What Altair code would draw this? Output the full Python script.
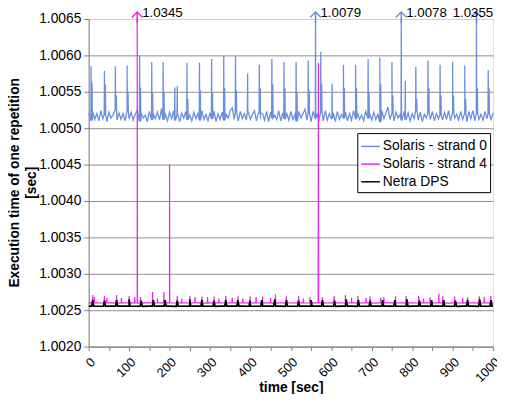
import altair as alt
import pandas as pd

series_names = ["Solaris - strand 0", "Solaris - strand 4", "Netra DPS"]
series_colors = ["#6a8fdc", "#ee22ee", "#000000"]

# Solaris - strand 0 : baseline samples (units of 1e-5 above 1.00500), evenly spread over 0..1000 s
blue_base = [
    21, 11, 23, 12, 20, 10, 24, 13, 19, 9, 22, 14, 18, 25, 11, 21, 12, 20, 10, 23,
    13, 22, 11, 19, 24, 10, 21, 14, 18, 9, 23, 12, 20, 13, 22, 11, 27, 12, 19, 10,
    22, 13, 24, 11, 20, 9, 21, 14, 23, 12, 18, 10, 22, 13, 20, 11, 24, 12, 19, 10,
    21, 13, 23, 9, 20, 12, 22, 11, 19, 14, 24, 28, 12, 21, 10, 23, 13, 20, 11, 22,
    12, 19, 24, 10, 21, 13, 20, 11, 23, 9, 22, 14, 18, 12, 24, 10, 21, 13, 20, 11,
    23, 12, 19, 10, 22, 14, 20, 26, 11, 21, 9, 23, 13, 19, 12, 22, 10, 24, 11, 20,
    13, 21, 9, 23, 12, 19, 14, 22, 10, 20, 11, 24, 13, 21, 12, 18, 10, 23, 14, 20,
    11, 22, 12, 19, 9, 24, 13, 21, 29, 12, 20, 10, 22, 14, 19, 11, 23, 12, 21, 10,
    20, 13, 24, 11, 22, 9, 19, 14, 21, 12, 23, 10, 20, 13, 18, 11, 22, 12, 24, 10,
    21, 14, 19, 11, 23, 12, 20, 9, 22, 13, 24, 10, 21, 12, 19, 11, 23, 13, 20, 12,
    21,
]
blue_spike_t = [6, 39, 66, 95, 126, 156, 184, 213, 219, 243,
                274, 304, 334, 363, 393, 422, 453, 483, 513, 543,
                561, 574, 602, 630, 660, 691, 720, 750, 773, 783,
                809, 839, 869, 900, 930, 959, 988]
blue_spike_v = [1.00585, 1.00579, 1.00585, 1.00586, 1.00600, 1.00591, 1.00591, 1.00556, 1.00558, 1.00590,
                1.00590, 1.00595, 1.00600, 1.00600, 1.00575, 1.00587, 1.00595, 1.00591, 1.00591, 1.00593,
                1.0079, 1.00605, 1.00561, 1.00587, 1.00587, 1.00595, 1.00597, 1.00591, 1.0078, 1.00565,
                1.00584, 1.00593, 1.00587, 1.00591, 1.00586, 1.0355, 1.00580]
blue_shoulder_v = [1.00563, 1.00560, 1.00545, 1.00550, 1.00556, 1.00548, 1.00550, None, None, 1.00540,
                   1.00552, 1.00548, 1.00555, 1.00552, None, 1.00555, 1.00560, 1.00555, 1.00550, 1.00552,
                   None, 1.00560, None, 1.00555, 1.00555, 1.00550, 1.00560, 1.00545, None, None,
                   1.00540, 1.00555, 1.00545, 1.00545, 1.00540, 1.00555, 1.00555]

# Solaris - strand 4 : baseline samples (units of 1e-6 above 1.00250)
mag_base = [
    101, 100, 102, 99, 100, 101, 100, 98, 101, 100, 102, 100, 99, 101, 100, 100, 102, 99, 101, 100,
    100, 99, 101, 102, 100, 99, 100, 101, 100, 98, 101, 100, 102, 100, 99, 101, 100, 101, 99, 100,
    102, 100, 99, 101, 100, 100, 98, 101, 100, 102, 99, 100, 101, 100, 99, 101, 100, 102, 100, 99,
    101, 100, 100, 99, 102, 100, 101, 99, 100, 101, 100, 98, 101, 100, 102, 100, 99, 101, 100, 101,
    100, 99, 102, 100, 101, 99, 100, 100, 101, 98, 100, 102, 99, 101, 100, 100, 101, 99, 102, 100,
    101,
]
mag_spike_t = [10, 14, 39, 45, 69, 81, 100, 114, 120, 128,
               158, 170, 186, 200, 219, 230, 250, 263, 280, 294,
               310, 322, 339, 355, 369, 381, 399, 414, 430, 450,
               462, 489, 519, 531, 547, 568, 578, 607, 635, 650,
               666, 686, 696, 722, 730, 759, 785, 816, 828, 844,
               866, 876, 905, 925, 937, 966, 978, 994]
mag_spike_v = [1.00271, 1.00268, 1.00270, 1.00267, 1.00271, 1.00267, 1.00270, 1.00268, 1.0345, 1.00268,
               1.00275, 1.00266, 1.00275, 1.0045, 1.00270, 1.00266, 1.00270, 1.00268, 1.00269, 1.00268,
               1.00269, 1.00266, 1.00270, 1.00267, 1.00269, 1.00266, 1.00269, 1.00268, 1.00269, 1.00267,
               1.00272, 1.00269, 1.00270, 1.00266, 1.00268, 1.0059, 1.00268, 1.00270, 1.00271, 1.00267,
               1.00270, 1.00267, 1.00269, 1.00267, 1.00268, 1.00269, 1.00270, 1.00270, 1.00266, 1.00268,
               1.00273, 1.00270, 1.00269, 1.00267, 1.00268, 1.00269, 1.00268, 1.00270]

# Netra DPS : baseline samples (units of 1e-6 above 1.00250)
blk_base = [55, 54, 55, 56, 55, 54, 55, 55, 56, 54, 55, 55, 54, 56, 55, 55, 54, 55, 56, 55,
            54, 55, 55, 56, 54, 55, 55, 54, 55, 56, 55, 54, 55, 55, 56, 55, 54, 55, 55, 54, 55]
blk_spike_t = [10, 39, 69, 100, 130, 160, 189, 219, 250, 280, 310, 339, 369, 399, 428, 460, 489,
               519, 550, 578, 608, 637, 667, 696, 727, 757, 787, 818, 848, 878, 907, 937, 967, 995]
blk_spike_v = [1.00264, 1.00263, 1.00264, 1.00265, 1.00263, 1.00264, 1.00264, 1.00263, 1.00265, 1.00264,
               1.00263, 1.00264, 1.00264, 1.00263, 1.00264, 1.00265, 1.00264, 1.00263, 1.00264, 1.00264,
               1.00263, 1.00265, 1.00264, 1.00263, 1.00264, 1.00264, 1.00265, 1.00263, 1.00264, 1.00264,
               1.00263, 1.00264, 1.00265, 1.00264]

# off-scale values, shown with arrows at the top
arrow_t = [120, 561, 773, 959]
arrow_v = [1.0345, 1.0079, 1.0078, 1.0355]
arrow_series = ["Solaris - strand 4", "Solaris - strand 0", "Solaris - strand 0", "Solaris - strand 0"]
arrow_text = ["1.0345", "1.0079", "1.0078", "1.0355"]

y_ticks = [1.0020, 1.0025, 1.0030, 1.0035, 1.0040, 1.0045, 1.0050, 1.0055, 1.0060, 1.0065]
x_ticks = list(range(0, 1001, 50))


def build(name, base_vals, unit, offset, spike_t, spike_v, shoulder_v=None, half=0.6):
    n = len(base_vals)
    step = 1000 / (n - 1)
    base = [offset + b * unit for b in base_vals]
    pts = [(i * step, base[i]) for i in range(n)]
    for k, (t, v) in enumerate(zip(spike_t, spike_v)):
        b = base[min(n - 1, max(0, int(round(t / step))))]
        pts += [(t - half, b), (t, v), (t + half, b)]
        if shoulder_v is not None and shoulder_v[k] is not None:
            pts += [(t + 1.6, b), (t + 2.3, shoulder_v[k]), (t + 3.0, b)]
    pts.sort(key=lambda p: p[0])
    return pd.DataFrame({"t": [p[0] for p in pts], "v": [p[1] for p in pts], "series": name})


df_blue = build(series_names[0], blue_base, 1e-5, 1.00500, blue_spike_t, blue_spike_v, blue_shoulder_v)
df_mag = build(series_names[1], mag_base, 1e-6, 1.00250, mag_spike_t, mag_spike_v)
df_blk = build(series_names[2], blk_base, 1e-6, 1.00250, blk_spike_t, blk_spike_v, half=2.5)
df_arrow = pd.DataFrame({"t": arrow_t, "v": arrow_v, "series": arrow_series, "label": arrow_text})

FONT = "Liberation Sans"
color_scale = alt.Scale(domain=series_names, range=series_colors)
x_scale = alt.Scale(domain=[0, 1000], nice=False, zero=False)
y_scale = alt.Scale(domain=[1.0020, 1.0065], nice=False, zero=False, clamp=True)

x_enc = alt.X("t:Q", scale=x_scale, axis=alt.Axis(
    values=x_ticks, tickCount=50, format="d", labelExpr="datum.value % 100 == 0 ? datum.label : ''",
    labelAngle=-45, labelFontSize=13, labelFont=FONT, labelColor="black", labelOverlap=False,
    grid=False, tickSize=4, tickColor="#808080", domainColor="#808080",
    title="time [sec]", titleFontSize=14, titleFont=FONT, titleFontWeight="bold",
    titleColor="black", titleY=46, titleBaseline="alphabetic", labelPadding=5))
y_enc = alt.Y("v:Q", scale=y_scale, axis=alt.Axis(
    values=y_ticks, tickCount=50, format=".4f", labelFontSize=14, labelFont=FONT, labelColor="black",
    labelOverlap=False, labelFlush=False,
    grid=True, gridColor=alt.condition("datum.value > 1.00649", alt.value("#d0d0d0"), alt.value("#8c8c8c")),
    tickSize=5, tickColor="#808080", domainColor="#808080", labelPadding=3,
    title=["Execution time of one repetition", "[sec]"], titleFontSize=14, titleFont=FONT,
    titleFontWeight="bold", titleColor="black", titleLineHeight=17,
    titleAngle=270, titleX=-71, titleY=166, titleAlign="center", titleBaseline="alphabetic"))
legend = alt.Legend(title=None, orient="none", legendX=273, legendY=116,
                    fillColor="white", strokeColor="black", padding=3,
                    labelFont=FONT, labelFontSize=14, labelColor="black",
                    symbolType="stroke", symbolSize=361, symbolStrokeWidth=1.5,
                    rowPadding=0, labelOffset=2)
c_enc = alt.Color("series:N", scale=color_scale, legend=legend)

l_blue = alt.Chart(df_blue).mark_line(strokeWidth=1.3).encode(x=x_enc, y=y_enc, color=c_enc)
l_mag = alt.Chart(df_mag).mark_line(strokeWidth=1.2).encode(x="t:Q", y="v:Q", color=c_enc)
l_blk = alt.Chart(df_blk).mark_line(strokeWidth=1.7).encode(x="t:Q", y="v:Q", color=c_enc)

arrows = alt.Chart(df_arrow).mark_point(
    shape="M-1,1L0,0L1,1M0,0L0,2", size=121, filled=False, strokeWidth=1.5,
    opacity=1, yOffset=-7).encode(x="t:Q", y="v:Q", color=c_enc)
labels_r = alt.Chart(df_arrow).transform_filter("datum.t < 900").mark_text(
    align="left", baseline="alphabetic", dx=5, dy=-2, font=FONT, fontSize=13.5, color="black"
).encode(x="t:Q", y="v:Q", text="label:N")
labels_l = alt.Chart(df_arrow).transform_filter("datum.t >= 900").mark_text(
    align="right", baseline="alphabetic", dx=17, dy=-2, font=FONT, fontSize=13.5, color="black"
).encode(x="t:Q", y="v:Q", text="label:N")

chart = alt.layer(l_blue, l_mag, l_blk, arrows, labels_r, labels_l).properties(
    width=411, height=333,
    autosize=alt.AutoSizeParams(type="none"),
    padding={"left": 82, "top": 8, "right": 4, "bottom": 45},
).configure_view(stroke="#c8c8c8", strokeWidth=1).configure(background="white")

chart.save("out.html", embed_options={"renderer": "svg", "actions": False})
